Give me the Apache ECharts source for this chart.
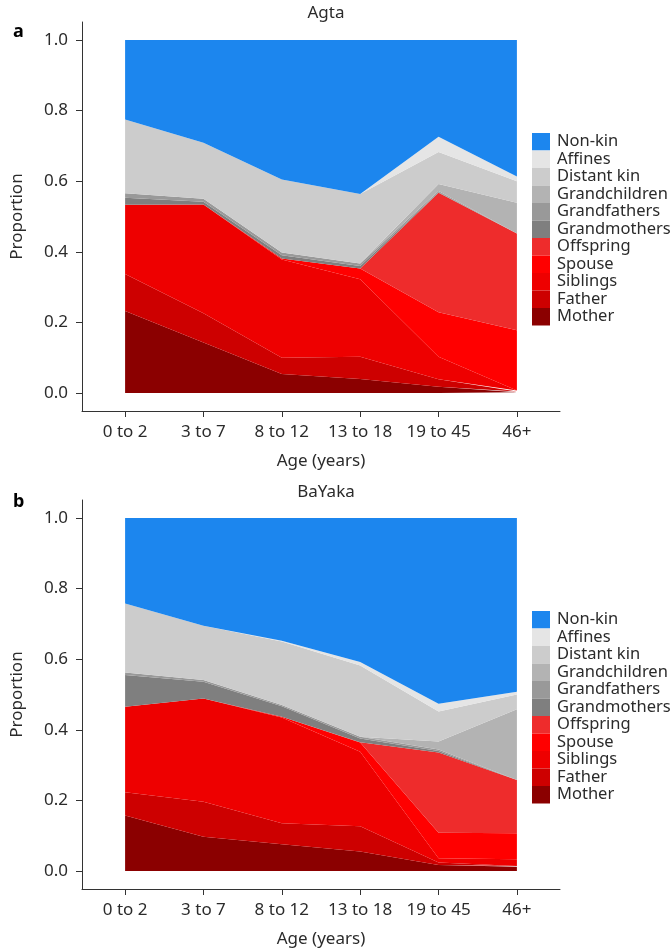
<!DOCTYPE html>
<html>
<head>
<meta charset="utf-8">
<script src="https://cdn.jsdelivr.net/npm/echarts@6/dist/echarts.min.js"></script>
<style>
  html, body { margin: 0; padding: 0; background: #fff; }
  #chart { width: 672px; height: 950px; }
</style>
</head>
<body>
<div id="chart"></div>
<script type="text/javascript">
// age groups on the x axis
var ageGroups = ['0 to 2', '3 to 7', '8 to 12', '13 to 18', '19 to 45', '46+'];
var yTicks = [0, 0.2, 0.4, 0.6, 0.8, 1.0];

// stacking order, bottom to top
var relations = ['Mother', 'Father', 'Siblings', 'Spouse', 'Offspring', 'Grandmothers',
                 'Grandfathers', 'Grandchildren', 'Distant kin', 'Affines', 'Non-kin'];
var relColors = ['#8B0000', '#CD0000', '#EE0000', '#FF0000', '#EE2C2C', '#7F7F7F',
                 '#999999', '#B3B3B3', '#CCCCCC', '#E5E5E5', '#1C86EE'];

// a: Agta, proportion of each relation per age group
var agtaMother       = [0.232, 0.143, 0.054, 0.040, 0.018, 0.002];
var agtaFather       = [0.105, 0.083, 0.046, 0.063, 0.021, 0.002];
var agtaSiblings     = [0.196, 0.308, 0.278, 0.219, 0.064, 0.003];
var agtaSpouse       = [0.000, 0.000, 0.003, 0.031, 0.126, 0.171];
var agtaOffspring    = [0.000, 0.000, 0.000, 0.000, 0.338, 0.274];
var agtaGrandmothers = [0.020, 0.008, 0.009, 0.007, 0.002, 0.000];
var agtaGrandfathers = [0.013, 0.008, 0.008, 0.007, 0.003, 0.000];
var agtaGrandchildren= [0.000, 0.000, 0.000, 0.000, 0.020, 0.087];
var agtaDistantKin   = [0.209, 0.159, 0.207, 0.197, 0.091, 0.061];
var agtaAffines      = [0.000, 0.000, 0.000, 0.000, 0.043, 0.013];
var agtaNonKin       = [0.225, 0.291, 0.395, 0.436, 0.274, 0.387];

// b: BaYaka
var bayakaMother       = [0.157, 0.097, 0.076, 0.055, 0.017, 0.012];
var bayakaFather       = [0.066, 0.099, 0.059, 0.072, 0.007, 0.002];
var bayakaSiblings     = [0.242, 0.293, 0.300, 0.211, 0.012, 0.019];
var bayakaSpouse       = [0.000, 0.000, 0.002, 0.026, 0.072, 0.074];
var bayakaOffspring    = [0.000, 0.000, 0.000, 0.001, 0.228, 0.151];
var bayakaGrandmothers = [0.090, 0.047, 0.030, 0.010, 0.004, 0.000];
var bayakaGrandfathers = [0.007, 0.005, 0.003, 0.005, 0.004, 0.000];
var bayakaGrandchildren= [0.000, 0.000, 0.000, 0.000, 0.023, 0.200];
var bayakaDistantKin   = [0.196, 0.154, 0.180, 0.202, 0.085, 0.042];
var bayakaAffines      = [0.000, 0.000, 0.002, 0.010, 0.022, 0.008];
var bayakaNonKin       = [0.242, 0.305, 0.348, 0.408, 0.526, 0.492];

var agta = [agtaMother, agtaFather, agtaSiblings, agtaSpouse, agtaOffspring, agtaGrandmothers,
            agtaGrandfathers, agtaGrandchildren, agtaDistantKin, agtaAffines, agtaNonKin];
var bayaka = [bayakaMother, bayakaFather, bayakaSiblings, bayakaSpouse, bayakaOffspring, bayakaGrandmothers,
              bayakaGrandfathers, bayakaGrandchildren, bayakaDistantKin, bayakaAffines, bayakaNonKin];

var font = 'Noto Sans';
var txt = '#2b2b2b';
var catIdx = ageGroups.map(function (g, i) { return i; });

function makeX(gi) {
    return {
        type: 'value', gridIndex: gi, min: -0.55, max: 5.55,
        name: 'Age (years)', nameLocation: 'middle', nameGap: 42,
        nameTextStyle: { fontFamily: font, fontSize: 17, color: txt },
        axisLine: { show: true, onZero: false, lineStyle: { color: '#333', width: 1 } },
        axisTick: { show: true, length: 6, customValues: catIdx, lineStyle: { color: '#333' } },
        axisLabel: { customValues: catIdx, margin: 13, fontFamily: font, fontSize: 17, color: txt,
                     formatter: function (v) { return ageGroups[Math.round(v)]; } },
        splitLine: { show: false }
    };
}
function makeY(gi) {
    return {
        type: 'value', gridIndex: gi, min: -0.051, max: 1.051,
        name: 'Proportion', nameLocation: 'middle', nameGap: 56,
        nameTextStyle: { fontFamily: font, fontSize: 17, color: txt },
        axisLine: { show: true, onZero: false, lineStyle: { color: '#333', width: 1 } },
        axisTick: { show: true, inside: false, length: 6, customValues: yTicks, lineStyle: { color: '#333' } },
        axisLabel: { customValues: yTicks, margin: 14, fontFamily: font, fontSize: 17, color: txt,
                     formatter: function (v) { return v.toFixed(1); } },
        splitLine: { show: false }
    };
}

var series = [];
[agta, bayaka].forEach(function (pop, gi) {
    pop.forEach(function (vals, ri) {
        series.push({
            name: relations[ri], type: 'line', stack: 'pop' + gi,
            xAxisIndex: gi, yAxisIndex: gi,
            symbol: 'none', silent: true,
            lineStyle: { width: 0 },
            itemStyle: { color: relColors[ri] },
            areaStyle: { color: relColors[ri], opacity: 1, origin: 0 },
            // proportion first so it is the stacked dimension
            encode: { x: 1, y: 0 },
            data: vals.map(function (v, i) { return [v, i]; })
        });
    });
});

var legendOrder = relations.slice().reverse();
function makeLegend(top) {
    return {
        data: legendOrder, orient: 'vertical', left: 532, top: top, padding: 0,
        icon: 'rect', itemWidth: 18, itemHeight: 17.5, itemGap: 0,
        textStyle: { fontFamily: font, fontSize: 16.5, color: txt, padding: [2, 0, 0, 2] },
        selectedMode: false
    };
}

var chart = echarts.init(document.getElementById('chart'), null, { renderer: 'canvas' });
chart.setOption({
    animation: false,
    title: [
        { text: 'Agta', left: 321, top: 0, textAlign: 'center',
          textStyle: { fontFamily: font, fontSize: 17, fontWeight: 'normal', color: txt } },
        { text: 'BaYaka', left: 321, top: 479, textAlign: 'center',
          textStyle: { fontFamily: font, fontSize: 17, fontWeight: 'normal', color: txt } },
        { text: 'a', left: 8, top: 18, textStyle: { fontFamily: font, fontSize: 18, fontWeight: 'bold', color: '#000' } },
        { text: 'b', left: 8, top: 488, textStyle: { fontFamily: font, fontSize: 18, fontWeight: 'bold', color: '#000' } }
    ],
    legend: [makeLegend(133), makeLegend(611)],
    grid: [
        { left: 82, width: 478, top: 22, height: 389 },
        { left: 82, width: 478, top: 500, height: 389 }
    ],
    xAxis: [makeX(0), makeX(1)],
    yAxis: [makeY(0), makeY(1)],
    series: series
});
</script>
</body>
</html>
